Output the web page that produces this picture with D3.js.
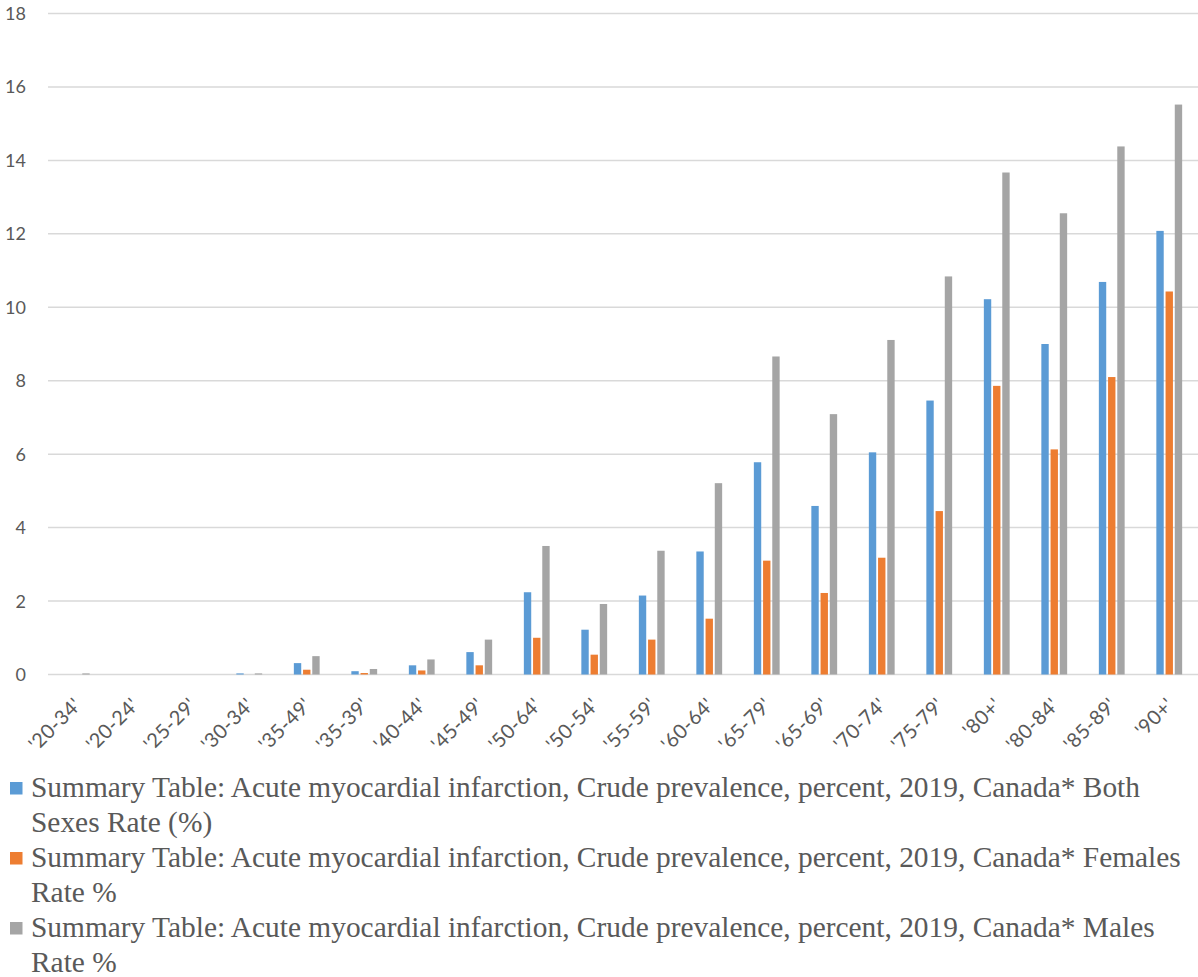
<!DOCTYPE html>
<html>
<head>
<meta charset="utf-8">
<script src="https://cdn.jsdelivr.net/npm/d3@7"></script>
<style>
  html, body { margin: 0; padding: 0; background: #fff; }
  svg { display: block; }
</style>
</head>
<body>
<svg id="chart" width="1198" height="977"></svg>
<script>
// Age groups along the x axis
const categories = ["'20-34'", "'20-24'", "'25-29'", "'30-34'", "'35-49'", "'35-39'", "'40-44'", "'45-49'",
  "'50-64'", "'50-54'", "'55-59'", "'60-64'", "'65-79'", "'65-69'", "'70-74'", "'75-79'",
  "'80+'", "'80-84'", "'85-89'", "'90+'"];

// Crude prevalence of acute myocardial infarction (%), 2019
const bothSexes = [0.0, 0.0, 0.0, 0.03, 0.31, 0.09, 0.25, 0.61, 2.24, 1.22, 2.15, 3.35,
  5.78, 4.59, 6.05, 7.46, 10.22, 9.0, 10.69, 12.08];
const females = [0.0, 0.0, 0.0, 0.0, 0.13, 0.04, 0.11, 0.25, 1.0, 0.54, 0.95, 1.52,
  3.1, 2.22, 3.18, 4.45, 7.86, 6.13, 8.1, 10.43];
const males = [0.03, 0.0, 0.0, 0.03, 0.5, 0.15, 0.41, 0.95, 3.5, 1.92, 3.37, 5.21,
  8.66, 7.09, 9.11, 10.84, 13.67, 12.56, 14.38, 15.52];

const yTicks = [0, 2, 4, 6, 8, 10, 12, 14, 16, 18];

const seriesNames = [
  "Summary Table: Acute myocardial infarction, Crude prevalence, percent, 2019, Canada* Both Sexes Rate (%)",
  "Summary Table: Acute myocardial infarction, Crude prevalence, percent, 2019, Canada* Females Rate %",
  "Summary Table: Acute myocardial infarction, Crude prevalence, percent, 2019, Canada* Males Rate %"
];
const seriesColors = ["#5B9BD5", "#ED7D31", "#A5A5A5"];
const seriesValues = [bothSexes, females, males];

const svg = d3.select("#chart");
const plot = { left: 48, right: 1198, top: 13.5, bottom: 674.5 };

const x = d3.scaleBand().domain(categories).range([plot.left, plot.right]).paddingInner(0).paddingOuter(0);
const y = d3.scaleLinear().domain([0, 18]).range([plot.bottom, plot.top]);
const inner = d3.scaleBand().domain([0, 1, 2]).range([0, x.bandwidth()]).paddingInner(0.2).paddingOuter(1.72);

// Horizontal gridlines
svg.append("g")
  .selectAll("line")
  .data(yTicks)
  .join("line")
  .attr("x1", plot.left).attr("x2", plot.right)
  .attr("y1", d => y(d)).attr("y2", d => y(d))
  .attr("stroke", "#D9D9D9").attr("stroke-width", 1.5);

// Y axis labels
svg.append("g")
  .selectAll("text")
  .data(yTicks)
  .join("text")
  .attr("x", 26).attr("y", d => y(d))
  .attr("dy", "0.36em")
  .attr("text-anchor", "end")
  .attr("font-family", "Lato, 'Open Sans', sans-serif")
  .attr("font-size", 18)
  .attr("fill", "#595959")
  .text(d => d);

// Bars
const groups = svg.append("g")
  .selectAll("g")
  .data(categories)
  .join("g")
  .attr("transform", d => `translate(${x(d)},0)`);

groups.selectAll("rect")
  .data((d, i) => seriesValues.map((vals, s) => ({ s, v: vals[i] })))
  .join("rect")
  .attr("x", d => inner(d.s))
  .attr("width", inner.bandwidth())
  .attr("y", d => y(d.v))
  .attr("height", d => y(0) - y(d.v))
  .attr("fill", d => seriesColors[d.s]);

// X axis labels, rotated
svg.append("g")
  .selectAll("text")
  .data(categories)
  .join("text")
  .attr("transform", d => `translate(${x(d) + x.bandwidth() / 2 + 1},${plot.bottom + 27}) rotate(-45)`)
  .attr("text-anchor", "end")
  .attr("dy", "0.35em")
  .attr("font-family", "Lato, 'Open Sans', sans-serif")
  .attr("font-size", 20)
  .attr("letter-spacing", 0.4)
  .attr("fill", "#595959")
  .text(d => d);

// Legend with wrapped series names
const legend = svg.append("g");
const lineH = 35;
const maxW = 1165;
const textX = 31;
let row = 0;
seriesNames.forEach((name, i) => {
  const base = 797 + row * lineH;
  legend.append("rect")
    .attr("x", 10).attr("y", base - 15)
    .attr("width", 12.5).attr("height", 12.5)
    .attr("fill", seriesColors[i]);
  const t = legend.append("text")
    .attr("x", textX).attr("y", base)
    .attr("font-family", "'Liberation Serif', 'Times New Roman', serif")
    .attr("font-size", 29.4)
    .attr("fill", "#595959");
  const words = name.split(" ");
  let line = [];
  let ts = t.append("tspan").attr("x", textX);
  let n = 1;
  words.forEach(w => {
    line.push(w);
    ts.text(line.join(" "));
    if (ts.node().getComputedTextLength() > maxW && line.length > 1) {
      line.pop();
      ts.text(line.join(" "));
      line = [w];
      ts = t.append("tspan").attr("x", textX).attr("dy", lineH).text(w);
      n++;
    }
  });
  row += n;
});
</script>
</body>
</html>
